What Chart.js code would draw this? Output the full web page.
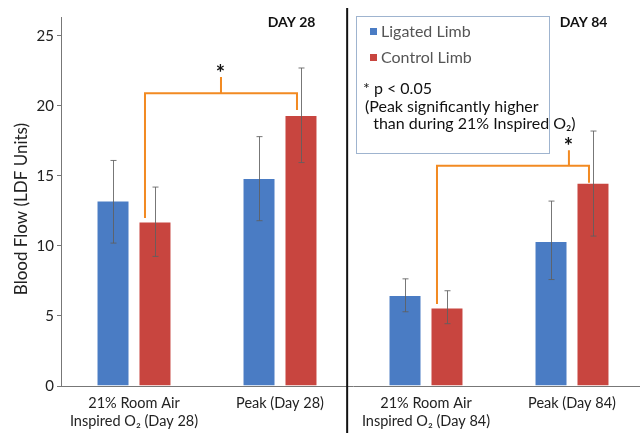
<!DOCTYPE html>
<html>
<head>
<meta charset="utf-8">
<script src="https://cdn.jsdelivr.net/npm/chart.js@4.4.1/dist/chart.umd.min.js"></script>
<style>
  html, body { margin: 0; padding: 0; background: #fff; overflow: hidden; }
  canvas { display: block; }
</style>
</head>
<body>
<canvas id="myChart" width="660" height="433"></canvas>
<script>
// values
const categories = [
  ['21% Room Air', 'Inspired O\u2082 (Day 28)'],
  'Peak (Day 28)',
  ['21% Room Air', 'Inspired O\u2082 (Day 84)'],
  'Peak (Day 84)'
];
const seriesNames = ['Ligated Limb', 'Control Limb'];
const ligated = [13.25, 14.85, 6.5, 10.35];
const control = [11.75, 19.35, 5.6, 14.5];
const ligatedLow = [10.2, 11.8, 5.3, 7.6];
const ligatedHigh = [16.1, 17.8, 7.65, 13.2];
const controlLow = [9.25, 15.95, 4.45, 10.7];
const controlHigh = [14.2, 22.7, 6.8, 18.2];
const yTicks = [0, 5, 10, 15, 20, 25];
const yTitle = 'Blood Flow (LDF Units)';

// significance brackets (between control bars, levels in LDF units)
const brackets = [
  { from: 0, to: 1, fromY: 12.0, toY: 19.7, level: 20.9, tickTop: 22.06, tickAt: 0.5 },
  { from: 2, to: 3, fromY: 5.85, toY: 14.5, level: 15.72, tickTop: 16.82, tickAt: 0.868 }
];
const dayLabels = ['DAY 28', 'DAY 84'];
const noteLines = ['* p < 0.05', '(Peak significantly higher', '  than during 21% Inspired O\u2082)'];

const blue = '#4a7cc4';
const red = '#c8453f';
const orange = '#f28a22';
const font = 'Lato, "Open Sans", sans-serif';

const extras = {
  id: 'extras',
  afterDatasetsDraw(chart) {
    const ctx = chart.ctx;
    const x = chart.scales.x, y = chart.scales.y;
    const metaB = chart.getDatasetMeta(0), metaR = chart.getDatasetMeta(1);

    // error bars
    ctx.save();
    ctx.strokeStyle = 'rgba(95,95,95,0.85)';
    ctx.lineWidth = 1;
    [[metaB, ligatedLow, ligatedHigh], [metaR, controlLow, controlHigh]].forEach(([meta, lo, hi]) => {
      meta.data.forEach((bar, i) => {
        const cx = Math.round(bar.x) + 0.5;
        const yl = y.getPixelForValue(lo[i]), yh = y.getPixelForValue(hi[i]);
        ctx.beginPath();
        ctx.moveTo(cx, yl); ctx.lineTo(cx, yh);
        ctx.moveTo(cx - 3, yl); ctx.lineTo(cx + 3, yl);
        ctx.moveTo(cx - 3, yh); ctx.lineTo(cx + 3, yh);
        ctx.stroke();
      });
    });
    ctx.restore();

    // brackets
    ctx.save();
    ctx.strokeStyle = orange;
    ctx.lineWidth = 2;
    brackets.forEach(b => {
      const x1 = metaR.data[b.from].x - 10;
      const x2 = metaR.data[b.to].x - 4;
      const yl = y.getPixelForValue(b.level);
      const xm = x1 + (x2 - x1) * b.tickAt;
      ctx.beginPath();
      ctx.moveTo(x1, y.getPixelForValue(b.fromY));
      ctx.lineTo(x1, yl);
      ctx.lineTo(x2, yl);
      ctx.lineTo(x2, y.getPixelForValue(b.toY));
      ctx.moveTo(xm, yl);
      ctx.lineTo(xm, y.getPixelForValue(b.tickTop));
      ctx.stroke();
      ctx.fillStyle = '#111';
      ctx.font = 'bold 22px ' + font;
      ctx.textAlign = 'center';
      ctx.textBaseline = 'middle';
      ctx.fillText('*', xm - 0.5, y.getPixelForValue(b.tickTop) - 3);
    });
    ctx.restore();

    // divider between the two days
    ctx.save();
    const dx = x.getPixelForValue(1.46);
    ctx.strokeStyle = '#111';
    ctx.lineWidth = 2;
    ctx.beginPath();
    ctx.moveTo(dx, 8);
    ctx.lineTo(dx, chart.height);
    ctx.stroke();

    // day labels, right aligned on the peak bars
    ctx.fillStyle = '#111';
    ctx.font = 'bold 14px ' + font;
    ctx.textAlign = 'right';
    ctx.textBaseline = 'middle';
    [1, 3].forEach((i, k) => {
      const bar = metaR.data[i];
      ctx.fillText(dayLabels[k], bar.x + bar.width / 2 - 2, 22);
    });

    // y axis title
    ctx.save();
    ctx.translate(22, 209);
    ctx.rotate(-Math.PI / 2);
    ctx.textAlign = 'center';
    ctx.font = '17px ' + font;
    ctx.fillStyle = '#222';
    ctx.fillText(yTitle, 0, 0);
    ctx.restore();

    // legend box
    ctx.strokeStyle = '#9fb4cf';
    ctx.lineWidth = 1;
    ctx.strokeRect(356.5, 16.5, 193, 137);
    ctx.textAlign = 'left';
    ctx.font = '16px ' + font;
    [blue, red].forEach((c, i) => {
      const ly = 32 + i * 26;
      ctx.fillStyle = c;
      ctx.fillRect(370, ly - 4, 7, 7);
      ctx.fillStyle = '#555';
      ctx.fillText(seriesNames[i], 381, ly);
    });
    ctx.fillStyle = '#111';
    ctx.fillText(noteLines[0], 363, 89);
    ctx.fillText(noteLines[1], 365, 107);
    ctx.fillText(noteLines[2], 365, 124);
    ctx.restore();
  }
};

new Chart(document.getElementById('myChart'), {
  type: 'bar',
  data: {
    labels: categories,
    datasets: [
      { label: seriesNames[0], data: ligated, backgroundColor: blue, borderColor: 'rgba(255,255,255,0.5)', borderWidth: 1 },
      { label: seriesNames[1], data: control, backgroundColor: red, borderColor: 'rgba(255,255,255,0.5)', borderWidth: 1 }
    ]
  },
  options: {
    responsive: false,
    animation: false,
    categoryPercentage: 0.575,
    barPercentage: 0.786,
    layout: { padding: { top: 17, right: 15, left: 0, bottom: 0 } },
    plugins: { legend: { display: false }, tooltip: { enabled: false } },
    scales: {
      x: {
        grid: { display: false, drawTicks: false },
        border: { color: '#777', width: 1 },
        ticks: { color: '#222', font: { family: font, size: 14.5 }, padding: 9, maxRotation: 0, autoSkip: false },
        afterFit(s) { s.height = 47; }
      },
      y: {
        min: 0,
        max: 26.34,
        grid: { drawOnChartArea: false, tickLength: 4, tickColor: '#777' },
        border: { color: '#777', width: 1 },
        ticks: {
          stepSize: 5,
          includeBounds: false,
          padding: 3,
          color: '#222',
          font: { family: font, size: 15 },
          callback: v => yTicks.includes(v) ? v : ''
        },
        title: { display: false },
        afterFit(s) { s.width = 61; }
      }
    }
  },
  plugins: [extras]
});
</script>
</body>
</html>
